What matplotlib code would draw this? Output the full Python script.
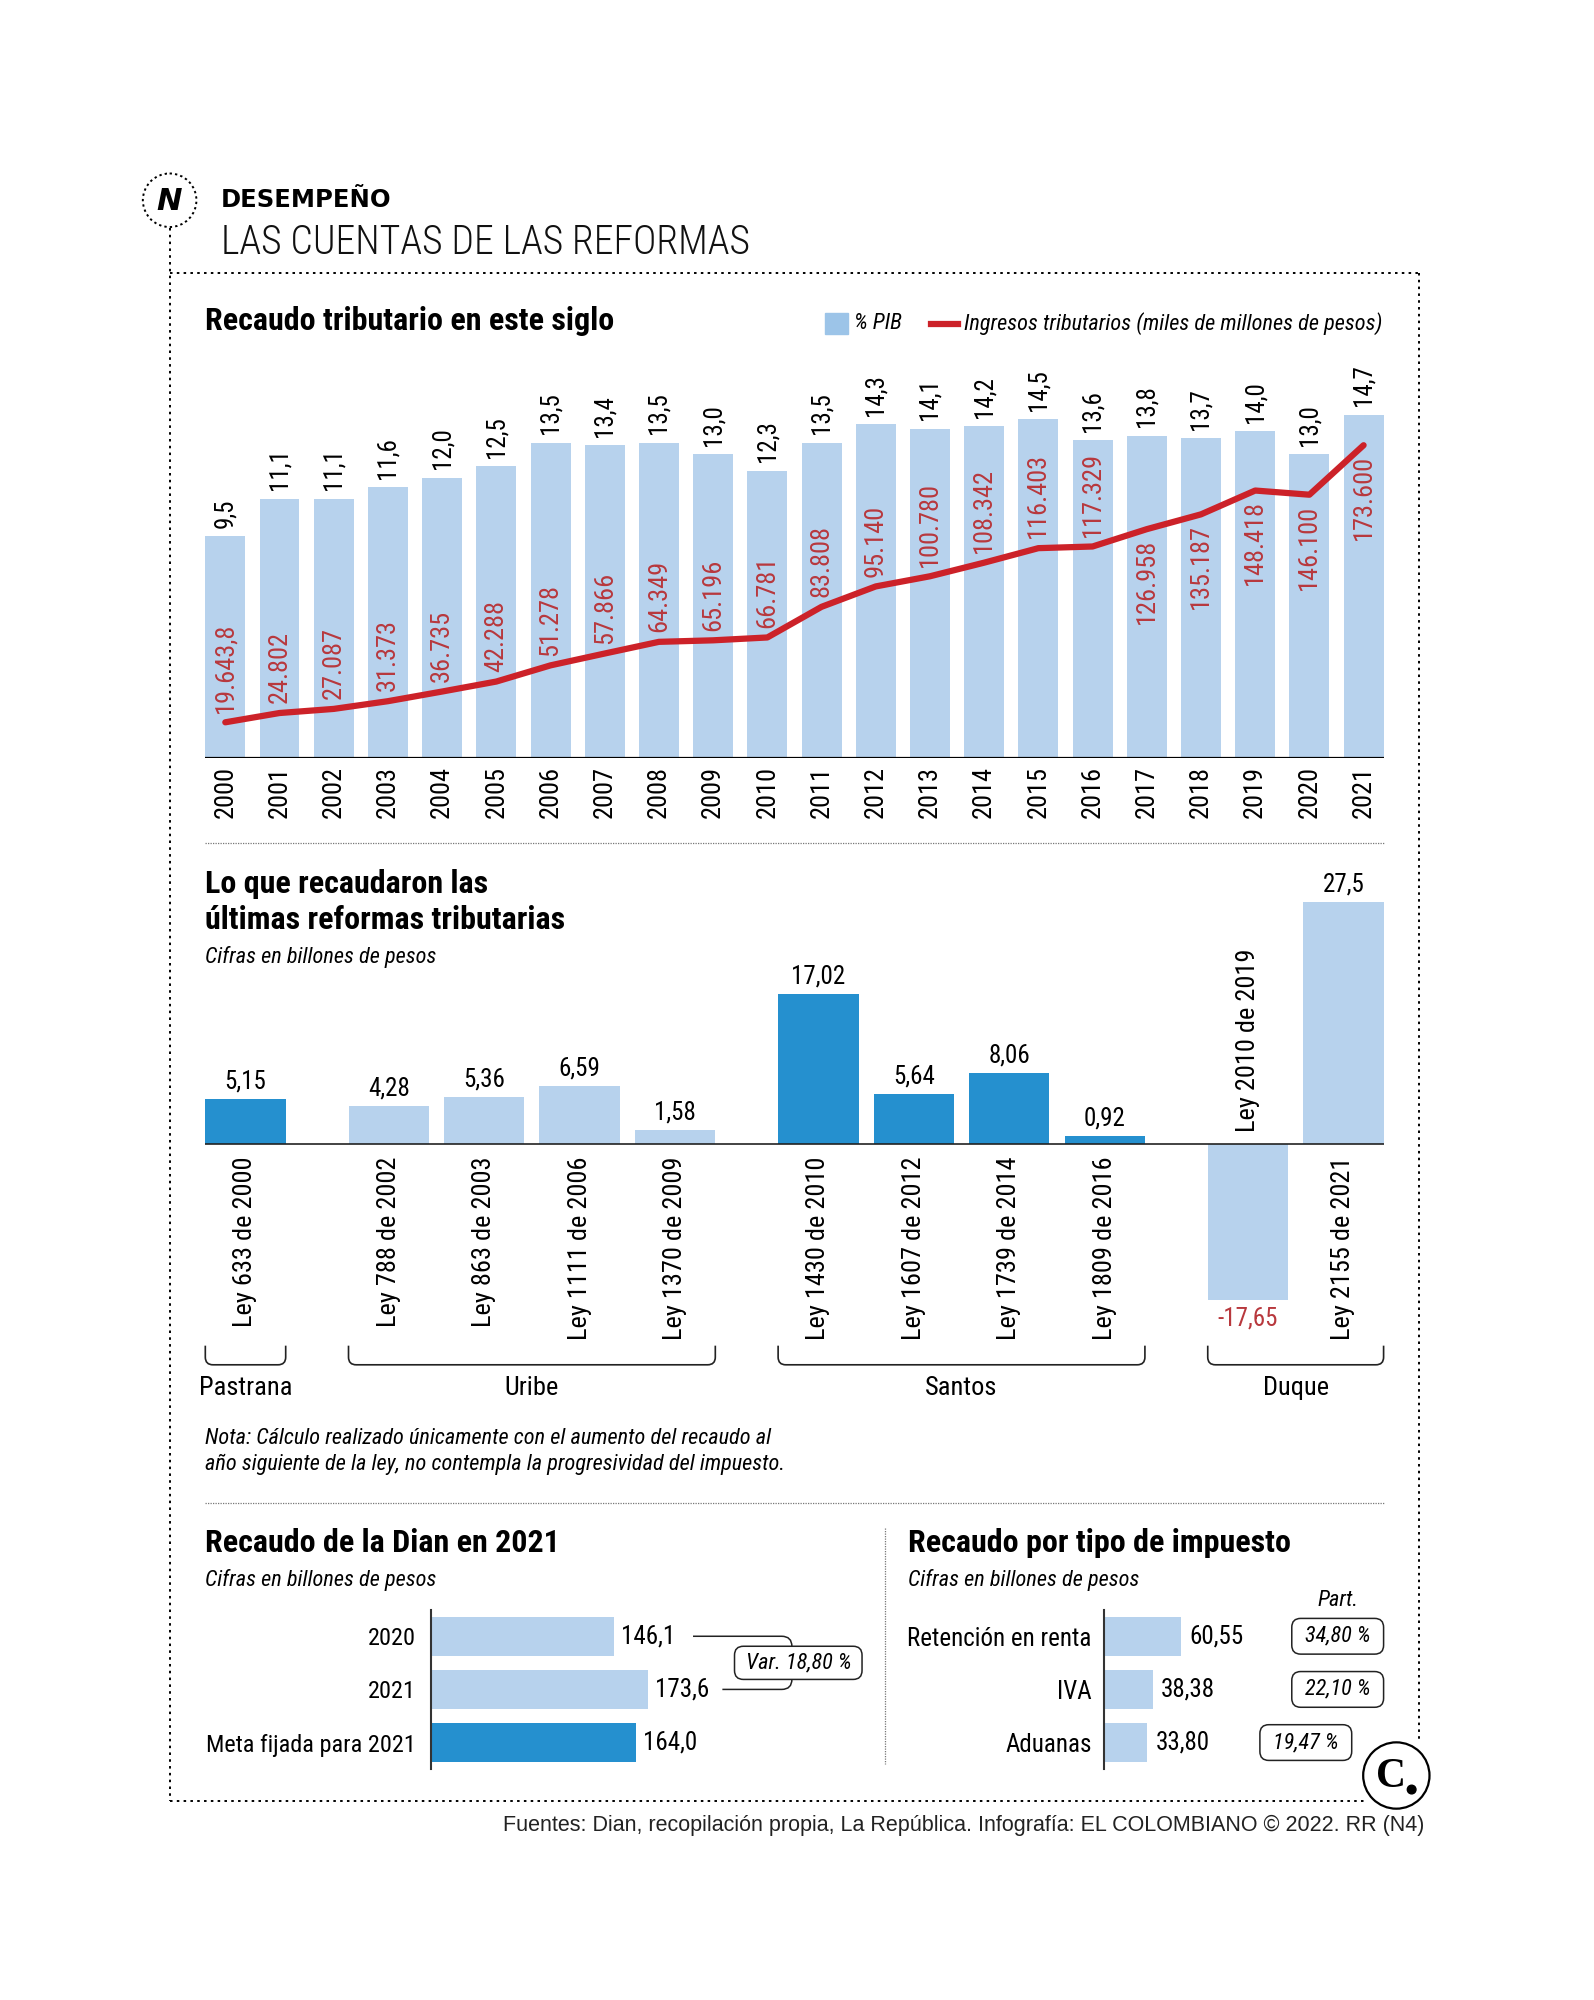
import matplotlib
matplotlib.use('Agg')
import matplotlib.pyplot as plt
from matplotlib import font_manager
from matplotlib.patches import Circle, FancyBboxPatch, PathPatch, Rectangle
from matplotlib.path import Path
import numpy as np

# ---------------- data ----------------
years = [2000, 2001, 2002, 2003, 2004, 2005, 2006, 2007, 2008, 2009, 2010,
         2011, 2012, 2013, 2014, 2015, 2016, 2017, 2018, 2019, 2020, 2021]
pib = [9.5, 11.1, 11.1, 11.6, 12.0, 12.5, 13.5, 13.4, 13.5, 13.0, 12.3,
       13.5, 14.3, 14.1, 14.2, 14.5, 13.6, 13.8, 13.7, 14.0, 13.0, 14.7]
ingresos = [19643.8, 24802, 27087, 31373, 36735, 42288, 51278, 57866, 64349, 65196, 66781,
            83808, 95140, 100780, 108342, 116403, 117329, 126958, 135187, 148418, 146100, 173600]

leyes = ['Ley 633 de 2000', 'Ley 788 de 2002', 'Ley 863 de 2003', 'Ley 1111 de 2006',
         'Ley 1370 de 2009', 'Ley 1430 de 2010', 'Ley 1607 de 2012', 'Ley 1739 de 2014',
         'Ley 1809 de 2016', 'Ley 2010 de 2019', 'Ley 2155 de 2021']
recaudo_leyes = [5.15, 4.28, 5.36, 6.59, 1.58, 17.02, 5.64, 8.06, 0.92, -17.65, 27.5]
gobiernos = ['Pastrana', 'Uribe', 'Santos', 'Duque']
gobierno_ley = [0, 1, 1, 1, 1, 2, 2, 2, 2, 3, 3]

dian_cats = ['2020', '2021', 'Meta fijada para 2021']
dian_vals = [146.1, 173.6, 164.0]
variacion = 18.80

imp_cats = ['Retención en renta', 'IVA', 'Aduanas']
imp_vals = [60.55, 38.38, 33.80]
imp_part = [34.80, 22.10, 19.47]

# ---------------- style ----------------
LIGHT = '#b7d2ed'
DARK = '#2590cf'
LEG_BLUE = '#9cc4e8'
RED_LINE = '#cc2229'
RED_TXT = '#b8383d'
GOB_COLORS = [DARK, LIGHT, DARK, LIGHT]

avail = {f.name for f in font_manager.fontManager.ttflist}


def pick(*names):
    for n in names:
        if n in avail:
            return n
    return 'DejaVu Sans'


COND = pick('Liberation Sans Narrow', 'Roboto Condensed', 'Open Sans Condensed', 'Roboto', 'Liberation Sans')
PLAIN = pick('Liberation Sans', 'Arial', 'DejaVu Sans')
SERIF = pick('Liberation Serif', 'DejaVu Serif')
plt.rcParams['font.family'] = [COND, 'DejaVu Sans']


def es(v, dec):
    s = f'{v:,.{dec}f}'
    return s.replace(',', 'X').replace('.', ',').replace('X', '.')


VW, VH = 1250, 1568
fig = plt.figure(figsize=(15.94, 20), dpi=100)
ov = fig.add_axes([0, 0, 1, 1])
ov.set_xlim(0, VW)
ov.set_ylim(VH, 0)
ov.axis('off')


def vax(x0, y0, x1, y1):
    ax = fig.add_axes([x0 / VW, 1 - y1 / VH, (x1 - x0) / VW, (y1 - y0) / VH])
    ax.set_facecolor('none')
    return ax


def to_view(ax, x, y):
    return ov.transData.inverted().transform(ax.transData.transform((x, y)))


TITLE = 23

# ---------------- header / frame ----------------
ov.add_patch(Circle((133, 157), 21, facecolor='white', edgecolor='black', lw=1.4, ls=(0, (1.2, 1.6)), zorder=3))
ov.text(133, 158, 'N', fontsize=22, fontweight='bold', style='italic', family='DejaVu Sans',
        ha='center', va='center', zorder=4)
ov.text(173, 157, 'DESEMPEÑO', fontsize=17.5, fontweight='heavy', family='DejaVu Sans', va='center')
ov.text(173, 190, 'LAS CUENTAS DE LAS REFORMAS', fontsize=28.5, fontweight='light', va='center', color='#111111')

dot = dict(color='black', lw=1.4, ls=(0, (1.3, 2.2)))
ov.plot([133, 133], [179, 1412], **dot)
ov.plot([133, 1113], [214, 214], **dot)
ov.plot([1113, 1113], [214, 1366], **dot)
ov.plot([133, 1070], [1412, 1412], **dot)

sep = dict(color='#777777', lw=0.9, ls=(0, (1, 1)))
ov.plot([161, 1085], [661, 661], **sep)
ov.plot([161, 1085], [1178, 1178], **sep)
ov.plot([694, 694], [1198, 1383], **sep)

# ---------------- chart 1 ----------------
ov.text(161, 252, 'Recaudo tributario en este siglo', fontsize=TITLE, fontweight='bold', va='center')
ov.add_patch(Rectangle((647, 245), 18, 17, color=LEG_BLUE))
ov.text(670, 254, '% PIB', fontsize=16, style='italic', va='center')
ov.plot([730, 751], [254, 254], color=RED_LINE, lw=4.5)
ov.text(756, 254, 'Ingresos tributarios (miles de millones de pesos)', fontsize=16, style='italic', va='center')

ax1 = vax(161, 283, 1085, 594)
x = np.arange(len(years))
w1 = 0.7375
ax1.bar(x, pib, width=w1, color=LIGHT)
ax1.set_xlim(-w1 / 2, len(years) - 1 + w1 / 2)
ax1.set_ylim(0, 311 / 18.3)
ax1.axis('off')
ax1.axhline(0, color='black', lw=1.6)
for i, v in enumerate(pib):
    ax1.annotate(es(v, 1), (i, v), xytext=(0, 6), textcoords='offset points', rotation=90,
                 ha='center', va='bottom', fontsize=18)
for i, yr in enumerate(years):
    ax1.annotate(str(yr), (i, 0), xytext=(0, -6), textcoords='offset points', rotation=90,
                 ha='center', va='top', fontsize=19, annotation_clip=False)

ax1b = ax1.twinx()
ax1b.set_ylim(0, 311 / 0.001411)
ax1b.axis('off')
ax1b.plot(x, ingresos, color=RED_LINE, lw=4.5, solid_capstyle='round', solid_joinstyle='round')
for i, v in enumerate(ingresos):
    below = i >= 17
    dec = 1 if v % 1 else 0
    ax1b.annotate(es(v, dec), (i, v), xytext=(0, -7 if below else 7), textcoords='offset points',
                  rotation=90, ha='center', va='top' if below else 'bottom', fontsize=19, color=RED_TXT)

# ---------------- chart 2 ----------------
ov.text(161, 693, 'Lo que recaudaron las', fontsize=TITLE, fontweight='bold', va='center')
ov.text(161, 721, 'últimas reformas tributarias', fontsize=TITLE, fontweight='bold', va='center')
ov.text(161, 750, 'Cifras en billones de pesos', fontsize=16, style='italic', va='center')

pos = []
p, prev = 0.0, None
for g in gobierno_ley:
    if prev is not None:
        p += 1 + (0.5 if g != prev else 0)
    pos.append(p)
    prev = g

w2 = 0.842
ax2 = vax(161, 690, 1085, 1030)
ax2.bar(pos, recaudo_leyes, width=w2, color=[GOB_COLORS[g] for g in gobierno_ley])
ax2.set_xlim(pos[0] - w2 / 2, pos[-1] + w2 / 2)
ax2.set_ylim(-(1030 - 897) / 6.909, (897 - 690) / 6.909)
ax2.axis('off')
ax2.axhline(0, color='#222222', lw=1.2)
for p, v, name in zip(pos, recaudo_leyes, leyes):
    lab = str(v).replace('.', ',')
    if v >= 0:
        ax2.annotate(lab, (p, v), xytext=(0, 4), textcoords='offset points', ha='center', va='bottom', fontsize=18)
        ax2.annotate(name, (p, 0), xytext=(0, -9), textcoords='offset points', rotation=90,
                     ha='center', va='top', fontsize=19, annotation_clip=False)
    else:
        ax2.annotate(lab, (p, v), xytext=(0, -5), textcoords='offset points', ha='center', va='top',
                     fontsize=18, color=RED_TXT, annotation_clip=False)
        ax2.annotate(name, (p, 0), xytext=(0, 9), textcoords='offset points', rotation=90,
                     ha='center', va='bottom', fontsize=19)

for g, gname in enumerate(gobiernos):
    idx = [i for i, gg in enumerate(gobierno_ley) if gg == g]
    xl = to_view(ax2, pos[idx[0]] - w2 / 2, 0)[0]
    xr = to_view(ax2, pos[idx[-1]] + w2 / 2, 0)[0]
    r = 6
    verts = [(xl, 1055), (xl, 1070 - r), (xl, 1070), (xl + r, 1070), (xr - r, 1070),
             (xr, 1070), (xr, 1070 - r), (xr, 1055)]
    codes = [Path.MOVETO, Path.LINETO, Path.CURVE3, Path.CURVE3, Path.LINETO,
             Path.CURVE3, Path.CURVE3, Path.LINETO]
    ov.add_patch(PathPatch(Path(verts, codes), fill=False, edgecolor='#222222', lw=1.2))
    ov.text((xl + xr) / 2, 1088, gname, fontsize=19, ha='center', va='center')

ov.text(161, 1128, 'Nota: Cálculo realizado únicamente con el aumento del recaudo al',
        fontsize=16, style='italic', va='center')
ov.text(161, 1148, 'año siguiente de la ley, no contempla la progresividad del impuesto.',
        fontsize=16, style='italic', va='center')

# ---------------- chart 3 (left) ----------------
ov.text(161, 1210, 'Recaudo de la Dian en 2021', fontsize=TITLE, fontweight='bold', va='center')
ov.text(161, 1239, 'Cifras en billones de pesos', fontsize=16, style='italic', va='center')

ax3 = vax(338, 1262, 600, 1387)
ax3.barh(range(len(dian_vals)), dian_vals, height=0.74, color=[LIGHT, LIGHT, DARK])
ax3.set_ylim(len(dian_vals) - 0.5, -0.5)
ax3.set_xlim(0, 262 / 0.982)
for s in ['top', 'right', 'bottom']:
    ax3.spines[s].set_visible(False)
ax3.spines['left'].set_color('#333333')
ax3.spines['left'].set_linewidth(1.5)
ax3.set_xticks([])
ax3.set_yticks(range(len(dian_cats)))
ax3.set_yticklabels(dian_cats, fontsize=17.5)
ax3.tick_params(axis='y', length=0, pad=11)
for i, v in enumerate(dian_vals):
    ax3.annotate(es(v, 1), (v, i), xytext=(5, 0), textcoords='offset points', ha='left', va='center', fontsize=18)

y0 = to_view(ax3, 0, 0)[1]
y1 = to_view(ax3, 0, 1)[1]
xa = to_view(ax3, dian_vals[0], 0)[0] + 62
xb = to_view(ax3, dian_vals[1], 0)[0] + 58
xc, r = 621, 8
verts = [(xa, y0), (xc - r, y0), (xc, y0), (xc, y0 + r), (xc, y1 - r), (xc, y1), (xc - r, y1), (xb, y1)]
codes = [Path.MOVETO, Path.LINETO, Path.CURVE3, Path.CURVE3, Path.LINETO, Path.CURVE3, Path.CURVE3, Path.LINETO]
ov.add_patch(PathPatch(Path(verts, codes), fill=False, edgecolor='#222222', lw=1.1))
ym = (y0 + y1) / 2
ov.add_patch(FancyBboxPatch((576, ym - 13), 100, 26, boxstyle='round,pad=0,rounding_size=7',
                            facecolor='white', edgecolor='#222222', lw=1.1, zorder=3))
ov.text(626, ym, f'Var. {es(variacion, 2)} %', fontsize=16, style='italic', ha='center', va='center', zorder=4)

# ---------------- chart 3 (right) ----------------
ov.text(712, 1210, 'Recaudo por tipo de impuesto', fontsize=TITLE, fontweight='bold', va='center')
ov.text(712, 1239, 'Cifras en billones de pesos', fontsize=16, style='italic', va='center')
ov.text(1049, 1255, 'Part.', fontsize=16, style='italic', ha='center', va='center')

ax4 = vax(866, 1262, 1000, 1387)
ax4.barh(range(len(imp_vals)), imp_vals, height=0.74, color=LIGHT)
ax4.set_ylim(len(imp_vals) - 0.5, -0.5)
ax4.set_xlim(0, 134 / 0.99)
for s in ['top', 'right', 'bottom']:
    ax4.spines[s].set_visible(False)
ax4.spines['left'].set_color('#333333')
ax4.spines['left'].set_linewidth(1.5)
ax4.set_xticks([])
ax4.set_yticks(range(len(imp_cats)))
ax4.set_yticklabels(imp_cats, fontsize=18)
ax4.tick_params(axis='y', length=0, pad=9)
for i, v in enumerate(imp_vals):
    ax4.annotate(es(v, 2), (v, i), xytext=(6, 0), textcoords='offset points', ha='left', va='center', fontsize=18)

box_cx = [1049, 1049, 1024]
for i, part in enumerate(imp_part):
    yc = to_view(ax4, 0, i)[1]
    ov.add_patch(FancyBboxPatch((box_cx[i] - 36, yc - 14), 72, 28, boxstyle='round,pad=0,rounding_size=7',
                                facecolor='white', edgecolor='#222222', lw=1.1, zorder=3))
    ov.text(box_cx[i], yc, f'{es(part, 2)} %', fontsize=16, style='italic', ha='center', va='center', zorder=4)

# ---------------- logo / footer ----------------
ov.add_patch(Circle((1095, 1392), 26, facecolor='white', edgecolor='black', lw=1.6, zorder=5))
ov.text(1091, 1393, 'C', fontsize=30, fontweight='bold', family=SERIF, ha='center', va='center', zorder=6)
ov.add_patch(Circle((1107, 1403), 3.4, color='black', zorder=6))

ov.text(1117, 1431, 'Fuentes: Dian, recopilación propia, La República. Infografía: EL COLOMBIANO © 2022. RR (N4)',
        fontsize=15.5, family=PLAIN, ha='right', va='center', color='#222222')

fig.savefig('out.png', dpi=100)
